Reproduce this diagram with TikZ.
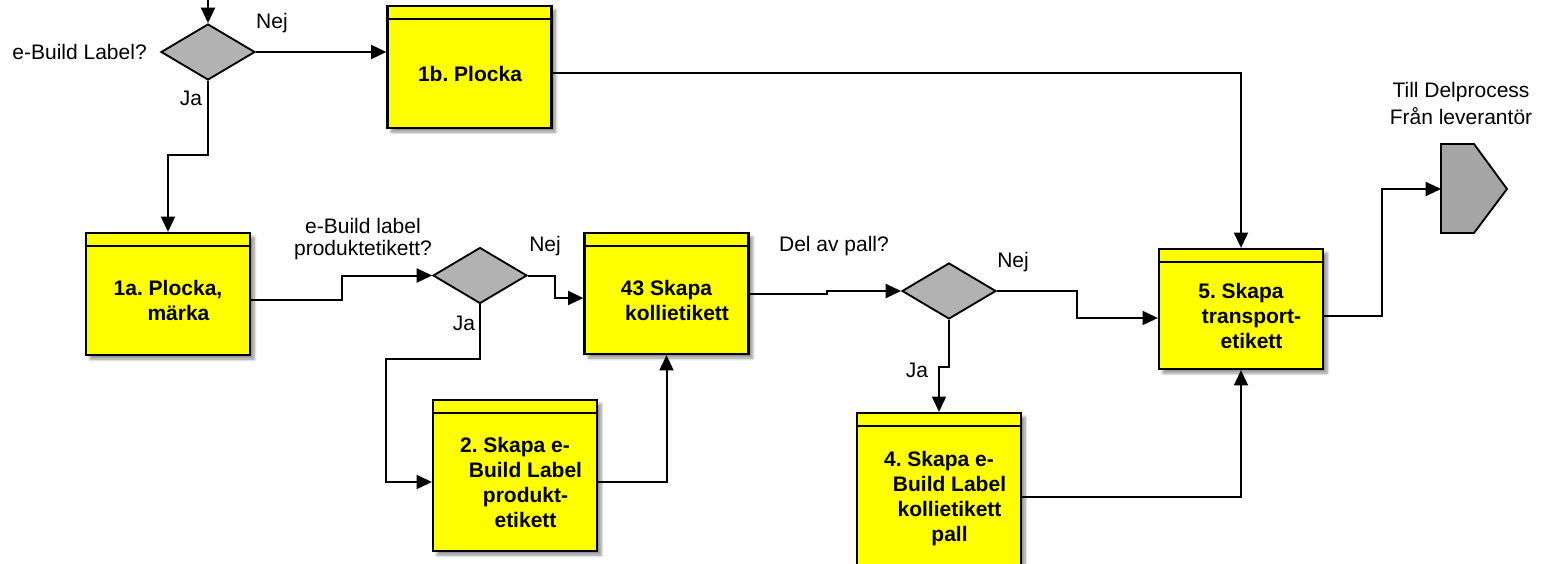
\documentclass[tikz,border=0pt]{standalone}
\usepackage{fontspec}
\setmainfont{Liberation Sans}
\frenchspacing
\usetikzlibrary{arrows.meta,shapes.geometric,shadows.blur,calc}
\definecolor{boxyellow}{HTML}{FFFF00}
\definecolor{diagray}{HTML}{B2B2B2}
\definecolor{pentgray}{HTML}{A6A6A6}
\begin{document}
\begin{tikzpicture}[x=0.75pt,y=-0.75pt,
  procbox/.style={draw=black, line width=1.7pt, fill=boxyellow, rectangle,
    minimum width=123pt, inner sep=0pt,
    blur shadow={shadow xshift=3pt, shadow yshift=-3pt, shadow blur steps=6, shadow opacity=45},
    path picture={\draw[line width=1.7pt]
      ([yshift=-9.75pt]path picture bounding box.north west) --
      ([yshift=-9.75pt]path picture bounding box.north east);}},
  boxtext/.style={font=\fontsize{15.75}{18.75}\selectfont\bfseries, align=center, inner sep=0pt},
  lbl/.style={font=\fontsize{15.75}{19}\selectfont, inner sep=0pt},
  diam/.style={diamond, draw=black, line width=1.4pt, fill=diagray,
    minimum width=70.5pt, minimum height=42pt, inner sep=0pt},
  conn/.style={draw=black, line width=1.5pt, -{Triangle[length=11.5pt,width=10.5pt]}}
]
\useasboundingbox (0,0) rectangle (1550,564);

% decisions
\node[diam] (d1) at (208,52) {};
\node[diam] (d2) at (480,275.5) {};
\node[diam] (d3) at (949,291) {};

% process boxes
\node[procbox, minimum height=91.5pt] (b1b) at (469.5,67) {};
\node[procbox, minimum height=91.5pt] (b1a) at (168,294) {};
\node[procbox, minimum height=90.75pt] (b43) at (666.5,293.5) {};
\node[procbox, minimum height=113.25pt] (b2) at (515,475.5) {};
\node[procbox, minimum height=90pt] (b5) at (1241,309) {};
\node[procbox, minimum height=125.25pt] (b4) at (939,496.5) {};

% box texts
\node[boxtext] (t1b) at (470,74) {1b. Plocka};
\node[boxtext] (t1a) at (168,300.5) {1a. Plocka,\\\hspace*{1em}märka};
\node[boxtext] (t43) at (666.5,300) {43 Skapa\\\hspace*{1em}kollietikett};
\node[boxtext] (t2) at (515,482) {2. Skapa e-\\\hspace*{1em}Build Label\\\hspace*{1em}produkt-\\\hspace*{1em}etikett};
\node[boxtext] (t5) at (1241,316) {5. Skapa\\\hspace*{1em}transport-\\\hspace*{1em}etikett};
\node[boxtext] (t4) at (939,499) {4. Skapa e-\\\hspace*{1em}Build Label\\\hspace*{1em}kollietikett\\\hspace*{1em}pall};

% off-page connector
\draw[line width=1.4pt, fill=pentgray] (1441,144) -- (1474,144) -- (1507,189) -- (1474,233) -- (1441,233) -- cycle;
\coordinate (pin) at (1441,189);

% labels
\node[lbl, anchor=east] (q1) at (147,52) {e-Build Label?};
\node[lbl] (n1) at (272,23) {Nej};
\node[lbl] (j1) at (191,98) {Ja};
\node[lbl, align=center, font=\fontsize{15.75}{16.5}\selectfont] (q2) at (363,239) {e-Build label\\produktetikett?};
\node[lbl] (n2) at (545,246) {Nej};
\node[lbl] (j2) at (464,323) {Ja};
\node[lbl] (q3) at (834,246) {Del av pall?};
\node[lbl] (n3) at (1013,262) {Nej};
\node[lbl] (j3) at (917,370) {Ja};
\node[lbl, align=center, font=\fontsize{15.75}{20.25}\selectfont] (q5) at (1461,103.5) {Till Delprocess\\Från leverantör};

% connectors
\coordinate (start) at (208,-2);
\draw[conn] (start) -- (d1.north);
\draw[conn] (d1.east) -- (d1.east -| b1b.west);
\draw[conn] (d1.south) -- (208,155) -| (b1a.north);
\draw[conn] (b1a.east |- 0,300) -- (342,300) |- (d2.west);
\draw[conn] (d2.east) -| (555,298) -- (b43.west |- 0,298);
\draw[conn] (d2.south) -- (480,359) -| (386,482) -- (b2.west |- 0,482);
\draw[conn] (b2.east |- 0,482) -| (b43.south);
\draw[conn] (b43.east |- 0,294) -- (827,294) -- (827,291) -- (d3.west);
\draw[conn] (d3.east) -| (1077,318) -- (b5.west |- 0,318);
\draw[conn] (d3.south) -- (949,367) -| (b4.north);
\draw[conn] (b4.east |- 0,497) -| (b5.south);
\draw[conn] (b1b.east |- 0,73) -| (b5.north);
\draw[conn] (b5.east |- 0,316) -- (1382,316) |- (pin);
\end{tikzpicture}
\end{document}
